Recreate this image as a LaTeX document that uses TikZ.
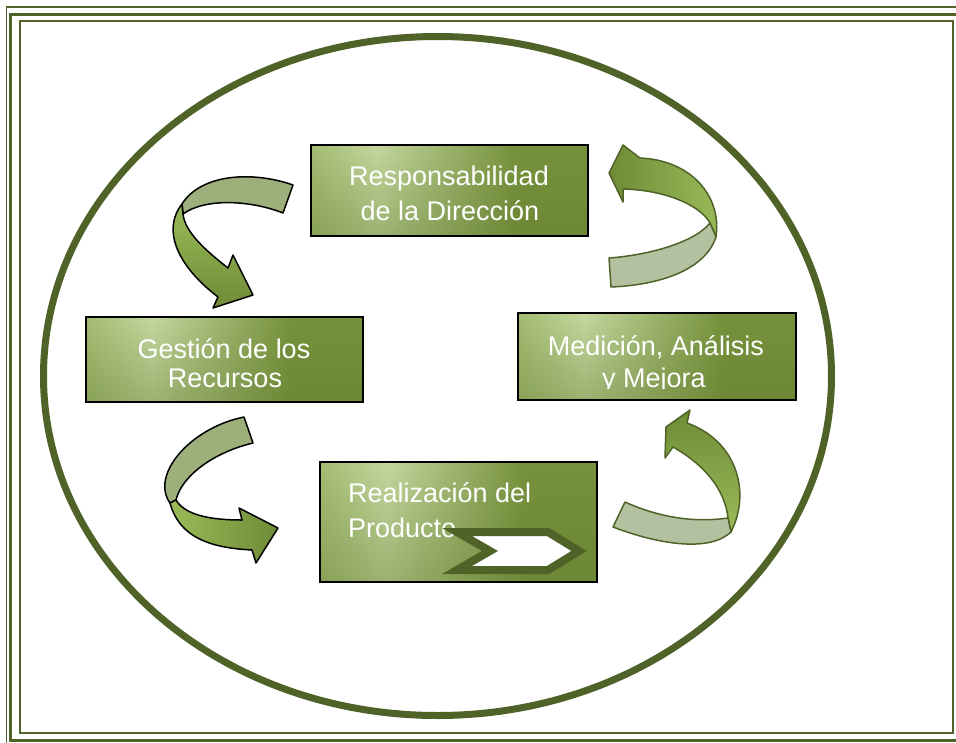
\documentclass[tikz,border=0pt]{standalone}
\usepackage{fontspec}
\setmainfont{Liberation Sans}
\usetikzlibrary{fadings}

\definecolor{framegreen}{HTML}{4F6228}
\definecolor{boxleft}{HTML}{A4BD72}
\definecolor{boxlight}{HTML}{C4D79F}
\definecolor{boxdark}{HTML}{76923C}
\definecolor{boxshadow}{HTML}{5F7A2D}
\definecolor{backL}{HTML}{9DB07C}
\definecolor{backR}{HTML}{B3C1A0}
\definecolor{frontL}{HTML}{9BBB59}
\definecolor{frontD}{HTML}{6E8B36}

\pgfdeclarehorizontalshading{boxshade}{100bp}{color(0bp)=(boxleft); color(25bp)=(boxleft);
  color(37bp)=(boxlight); color(62bp)=(boxdark); color(100bp)=(boxdark)}
\tikzfading[name=fadedown, top color=transparent!100, bottom color=transparent!60]

\begin{document}
\begin{tikzpicture}[x=1pt, y=-1pt,
  box/.style={shade, shading=boxshade, minimum width=277pt, inner sep=0pt,
    postaction={fill=boxshadow, path fading=fadedown},
    postaction={draw=black, line width=1.6pt}},
  txt/.style={text=white, font=\fontsize{27}{32}\selectfont, inner sep=0pt, anchor=base},
  backleft/.style={fill=backL, draw=black, line width=1.5pt, line join=round},
  frontleft/.style={draw=black, line width=1.5pt, line join=round},
  backright/.style={fill=backR, draw=framegreen, line width=1.5pt, line join=round},
  frontright/.style={draw=framegreen, line width=1.5pt, line join=round}]

\useasboundingbox (0,0) rectangle (956,742);

\begin{scope}
\clip (0,0) rectangle (956,742);
\draw[framegreen, line width=1.3pt] (6.6,7) rectangle (966,747);
\draw[framegreen, line width=3pt] (10.4,14.7) rectangle (962.6,740);
\draw[framegreen, line width=2pt] (20,21) rectangle (953,733);
\end{scope}

\draw[framegreen, line width=7pt] (437.5,376) ellipse [x radius=394, y radius=339.5];

\node[box, minimum height=91pt] (resp) at (449.5,190.5) {};
\node[box, minimum height=85pt] (gest) at (224.5,359.5) {};
\node[box, minimum width=278pt, minimum height=87pt] (medi) at (657,356.5) {};
\node[box, minimum height=120pt] (real) at (458.5,522) {};

\node[txt] (resp1) at (449,185) {Responsabilidad};
\node[txt] (resp2) at (450,220) {de la Dirección};
\node[txt] (gest1) at (224,358) {Gestión de los};
\node[txt] (gest2) at (225,387) {Recursos};
\begin{scope}
\clip (518,313) rectangle (796,388.5);
\node[txt] (medi1) at (656,355) {Medición, Análisis};
\node[txt] (medi2) at (654,387) {y Mejora};
\end{scope}
\node[txt, anchor=base west] (real1) at (348,502) {Realización del};
\node[txt, anchor=base west] (real2) at (348,537) {Producto};

\draw[framegreen, line width=8pt, fill=white, line join=miter]
  (457,532) -- (548,532) -- (579,551) -- (548,570) -- (457,570) -- (490,551) -- cycle;

\draw[backleft] (293,185) .. controls (250,170) and (200,175) .. (182,204)
  -- (183,214) .. controls (205,198) and (250,200) .. (283,213) -- cycle;
\draw[frontleft, top color=frontL, bottom color=frontD]
  (182,204) .. controls (165,225) and (170,260) .. (218,297) -- (213,308) -- (253,295)
  -- (233,255) -- (228,268) .. controls (205,250) and (185,232) .. (183,214) -- cycle;

\draw[backleft] (244,417) .. controls (190,428) and (150,475) .. (170,503)
  -- (176,500) .. controls (182,475) and (215,452) .. (253,443) -- cycle;
\draw[frontleft, left color=frontL, right color=frontD]
  (170,503) .. controls (180,540) and (215,548) .. (252,550) -- (256,563) -- (278,528)
  -- (239,508) -- (242,520) .. controls (210,520) and (185,515) .. (176,500) -- cycle;

\draw[frontright, left color=frontD, right color=frontL]
  (716,237) .. controls (722,195) and (690,160) .. (640,158) -- (623,145) -- (609,173)
  -- (623,202) -- (623,189) .. controls (665,190) and (700,205) .. (710,223) -- cycle;
\draw[backright] (609,258) .. controls (650,255) and (695,242) .. (710,223)
  -- (716,237) .. controls (705,270) and (660,285) .. (611,287) -- cycle;

\draw[frontright, top color=frontD, bottom color=frontL]
  (731,532) .. controls (752,490) and (735,440) .. (687,423) -- (690,410) -- (666,427)
  -- (665,458) -- (673,447) .. controls (705,465) and (725,490) .. (728,518) -- cycle;
\draw[backright] (625,502) .. controls (665,520) and (700,522) .. (728,518)
  -- (731,532) .. controls (710,552) and (660,545) .. (613,527) -- cycle;

\end{tikzpicture}
\end{document}
